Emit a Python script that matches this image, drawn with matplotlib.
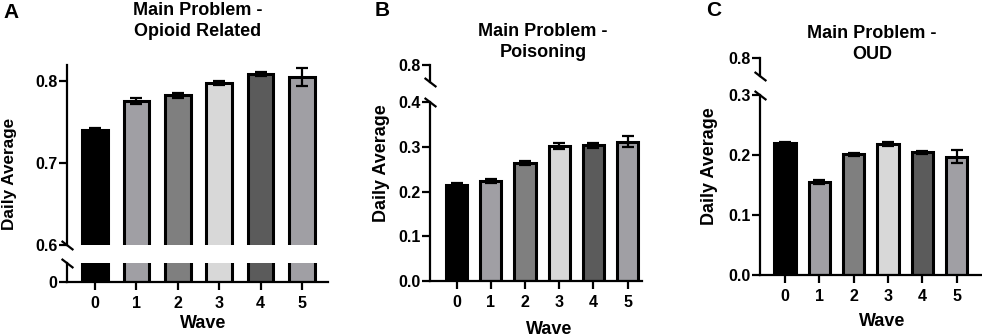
import matplotlib
matplotlib.use("Agg")
import matplotlib.pyplot as plt
import numpy as np

plt.rcParams['font.family'] = ['Liberation Sans', 'DejaVu Sans']
plt.rcParams['font.weight'] = 'bold'

waves = [0, 1, 2, 3, 4, 5]
wave_labels = ['0', '1', '2', '3', '4', '5']
bar_colors = ['#000000', '#a09fa4', '#7f7f7f', '#d8d8d8', '#5b5b5b', '#a09fa4']

# Panel A: Opioid Related
a_vals = [0.741, 0.776, 0.783, 0.798, 0.809, 0.805]
a_err = [0.002, 0.004, 0.003, 0.003, 0.003, 0.011]
# Panel B: Poisoning
b_vals = [0.215, 0.224, 0.264, 0.301, 0.303, 0.311]
b_err = [0.003, 0.004, 0.005, 0.007, 0.005, 0.012]
# Panel C: OUD
c_vals = [0.2195, 0.1555, 0.201, 0.218, 0.2045, 0.197]
c_err = [0.0015, 0.003, 0.003, 0.003, 0.003, 0.011]

W, H = 982, 336
fig = plt.figure(figsize=(W / 100, H / 100), dpi=100)


def rect(left, right, top, bottom):
    return [left / W, 1 - bottom / H, (right - left) / W, (bottom - top) / H]


LW = 1.6
TICK = dict(direction='out', length=5.5, width=LW, labelsize=11.5, pad=1.5)


def style(ax, show_bottom):
    for s in ['top', 'right']:
        ax.spines[s].set_visible(False)
    ax.spines['left'].set_linewidth(LW)
    ax.spines['bottom'].set_linewidth(LW)
    ax.spines['bottom'].set_visible(show_bottom)
    ax.tick_params(axis='y', **TICK)
    if show_bottom:
        ax.tick_params(axis='x', direction='out', length=6, width=LW,
                       labelsize=11.5, pad=4)
        ax.set_xticks(waves)
        ax.set_xticklabels(wave_labels, fontweight='bold')
    else:
        ax.tick_params(axis='x', bottom=False, labelbottom=False)
    for t in ax.get_yticklabels():
        t.set_fontweight('bold')


def draw_bars(ax, vals, err):
    ax.bar(waves, vals, width=0.62, color=bar_colors, edgecolor='black',
           linewidth=2.2, zorder=2)
    ax.errorbar(waves, vals, yerr=err, fmt='none', ecolor='black',
                elinewidth=1.6, capsize=4.5, capthick=1.6, zorder=3)


def slash(ax, yfrac):
    ax.plot([0], [yfrac], transform=ax.transAxes, marker=[(-1.3, 1), (1.3, -1)],
            markersize=8.5, markeredgewidth=1.6, color='black', clip_on=False,
            linestyle='none', zorder=5)


def fmt1(vals):
    return ['%.1f' % v for v in vals]


# ---------------- Panel A ----------------
xa = (-0.676, 5.628)
axA_up = fig.add_axes(rect(67, 328, 65, 245))
axA_lo = fig.add_axes(rect(67, 328, 263, 282))
draw_bars(axA_up, a_vals, a_err)
draw_bars(axA_lo, a_vals, a_err)
axA_up.set_xlim(*xa)
axA_lo.set_xlim(*xa)
axA_up.set_ylim(0.6, 0.82)
axA_up.set_yticks([0.6, 0.7, 0.8])
axA_up.set_yticklabels(fmt1([0.6, 0.7, 0.8]))
axA_lo.set_ylim(0, 0.05)
axA_lo.set_yticks([0])
axA_lo.set_yticklabels(['0'])
style(axA_up, False)
style(axA_lo, True)
slash(axA_up, 0)
slash(axA_lo, 1)

# ---------------- Panel B ----------------
xb = (-0.78, 5.42)
axB_up = fig.add_axes(rect(430, 642, 65, 82))
axB_lo = fig.add_axes(rect(430, 642, 102, 281))
draw_bars(axB_lo, b_vals, b_err)
axB_up.set_xlim(*xb)
axB_lo.set_xlim(*xb)
axB_up.set_ylim(0.79, 0.8)
axB_up.set_yticks([0.8])
axB_up.set_yticklabels(['0.8'])
axB_lo.set_ylim(0, 0.4)
axB_lo.set_yticks([0.0, 0.1, 0.2, 0.3, 0.4])
axB_lo.set_yticklabels(fmt1([0.0, 0.1, 0.2, 0.3, 0.4]))
style(axB_up, False)
style(axB_lo, True)
slash(axB_up, 0)
slash(axB_lo, 1)

# ---------------- Panel C ----------------
xc = (-0.73, 5.71)
axC_up = fig.add_axes(rect(760, 981, 58, 76))
axC_lo = fig.add_axes(rect(760, 981, 95, 275))
draw_bars(axC_lo, c_vals, c_err)
axC_up.set_xlim(*xc)
axC_lo.set_xlim(*xc)
axC_up.set_ylim(0.79, 0.8)
axC_up.set_yticks([0.8])
axC_up.set_yticklabels(['0.8'])
axC_lo.set_ylim(0, 0.3)
axC_lo.set_yticks([0.0, 0.1, 0.2, 0.3])
axC_lo.set_yticklabels(fmt1([0.0, 0.1, 0.2, 0.3]))
style(axC_up, False)
style(axC_lo, True)
slash(axC_up, 0)
slash(axC_lo, 1)


def ftext(px, py, s, **kw):
    fig.text(px / W, 1 - py / H, s, fontweight='bold', **kw)


# Panel letters
ftext(11, 12, 'A', fontsize=15, ha='center', va='center')
ftext(382, 11, 'B', fontsize=15, ha='center', va='center')
ftext(714, 11, 'C', fontsize=15, ha='center', va='center')

# Titles
ftext(198, 21, 'Main Problem -\nOpioid Related', fontsize=13, ha='center',
      va='center', linespacing=1.25)
ftext(543, 42, 'Main Problem -\nPoisoning', fontsize=13, ha='center',
      va='center', linespacing=1.25)
ftext(872, 44, 'Main Problem -\nOUD', fontsize=13, ha='center',
      va='center', linespacing=1.35)

# Y labels
ftext(10, 174, 'Daily Average', fontsize=12.3, rotation=90, ha='center', va='center')
ftext(382, 163, 'Daily Average', fontsize=13, rotation=90, ha='center', va='center')
ftext(710, 166, 'Daily Average', fontsize=13, rotation=90, ha='center', va='center')

# X labels
ftext(203, 324, 'Wave', fontsize=13, ha='center', va='center')
ftext(549, 329, 'Wave', fontsize=13, ha='center', va='center')
ftext(882, 321, 'Wave', fontsize=13, ha='center', va='center')

fig.savefig('out.png', dpi=100)
